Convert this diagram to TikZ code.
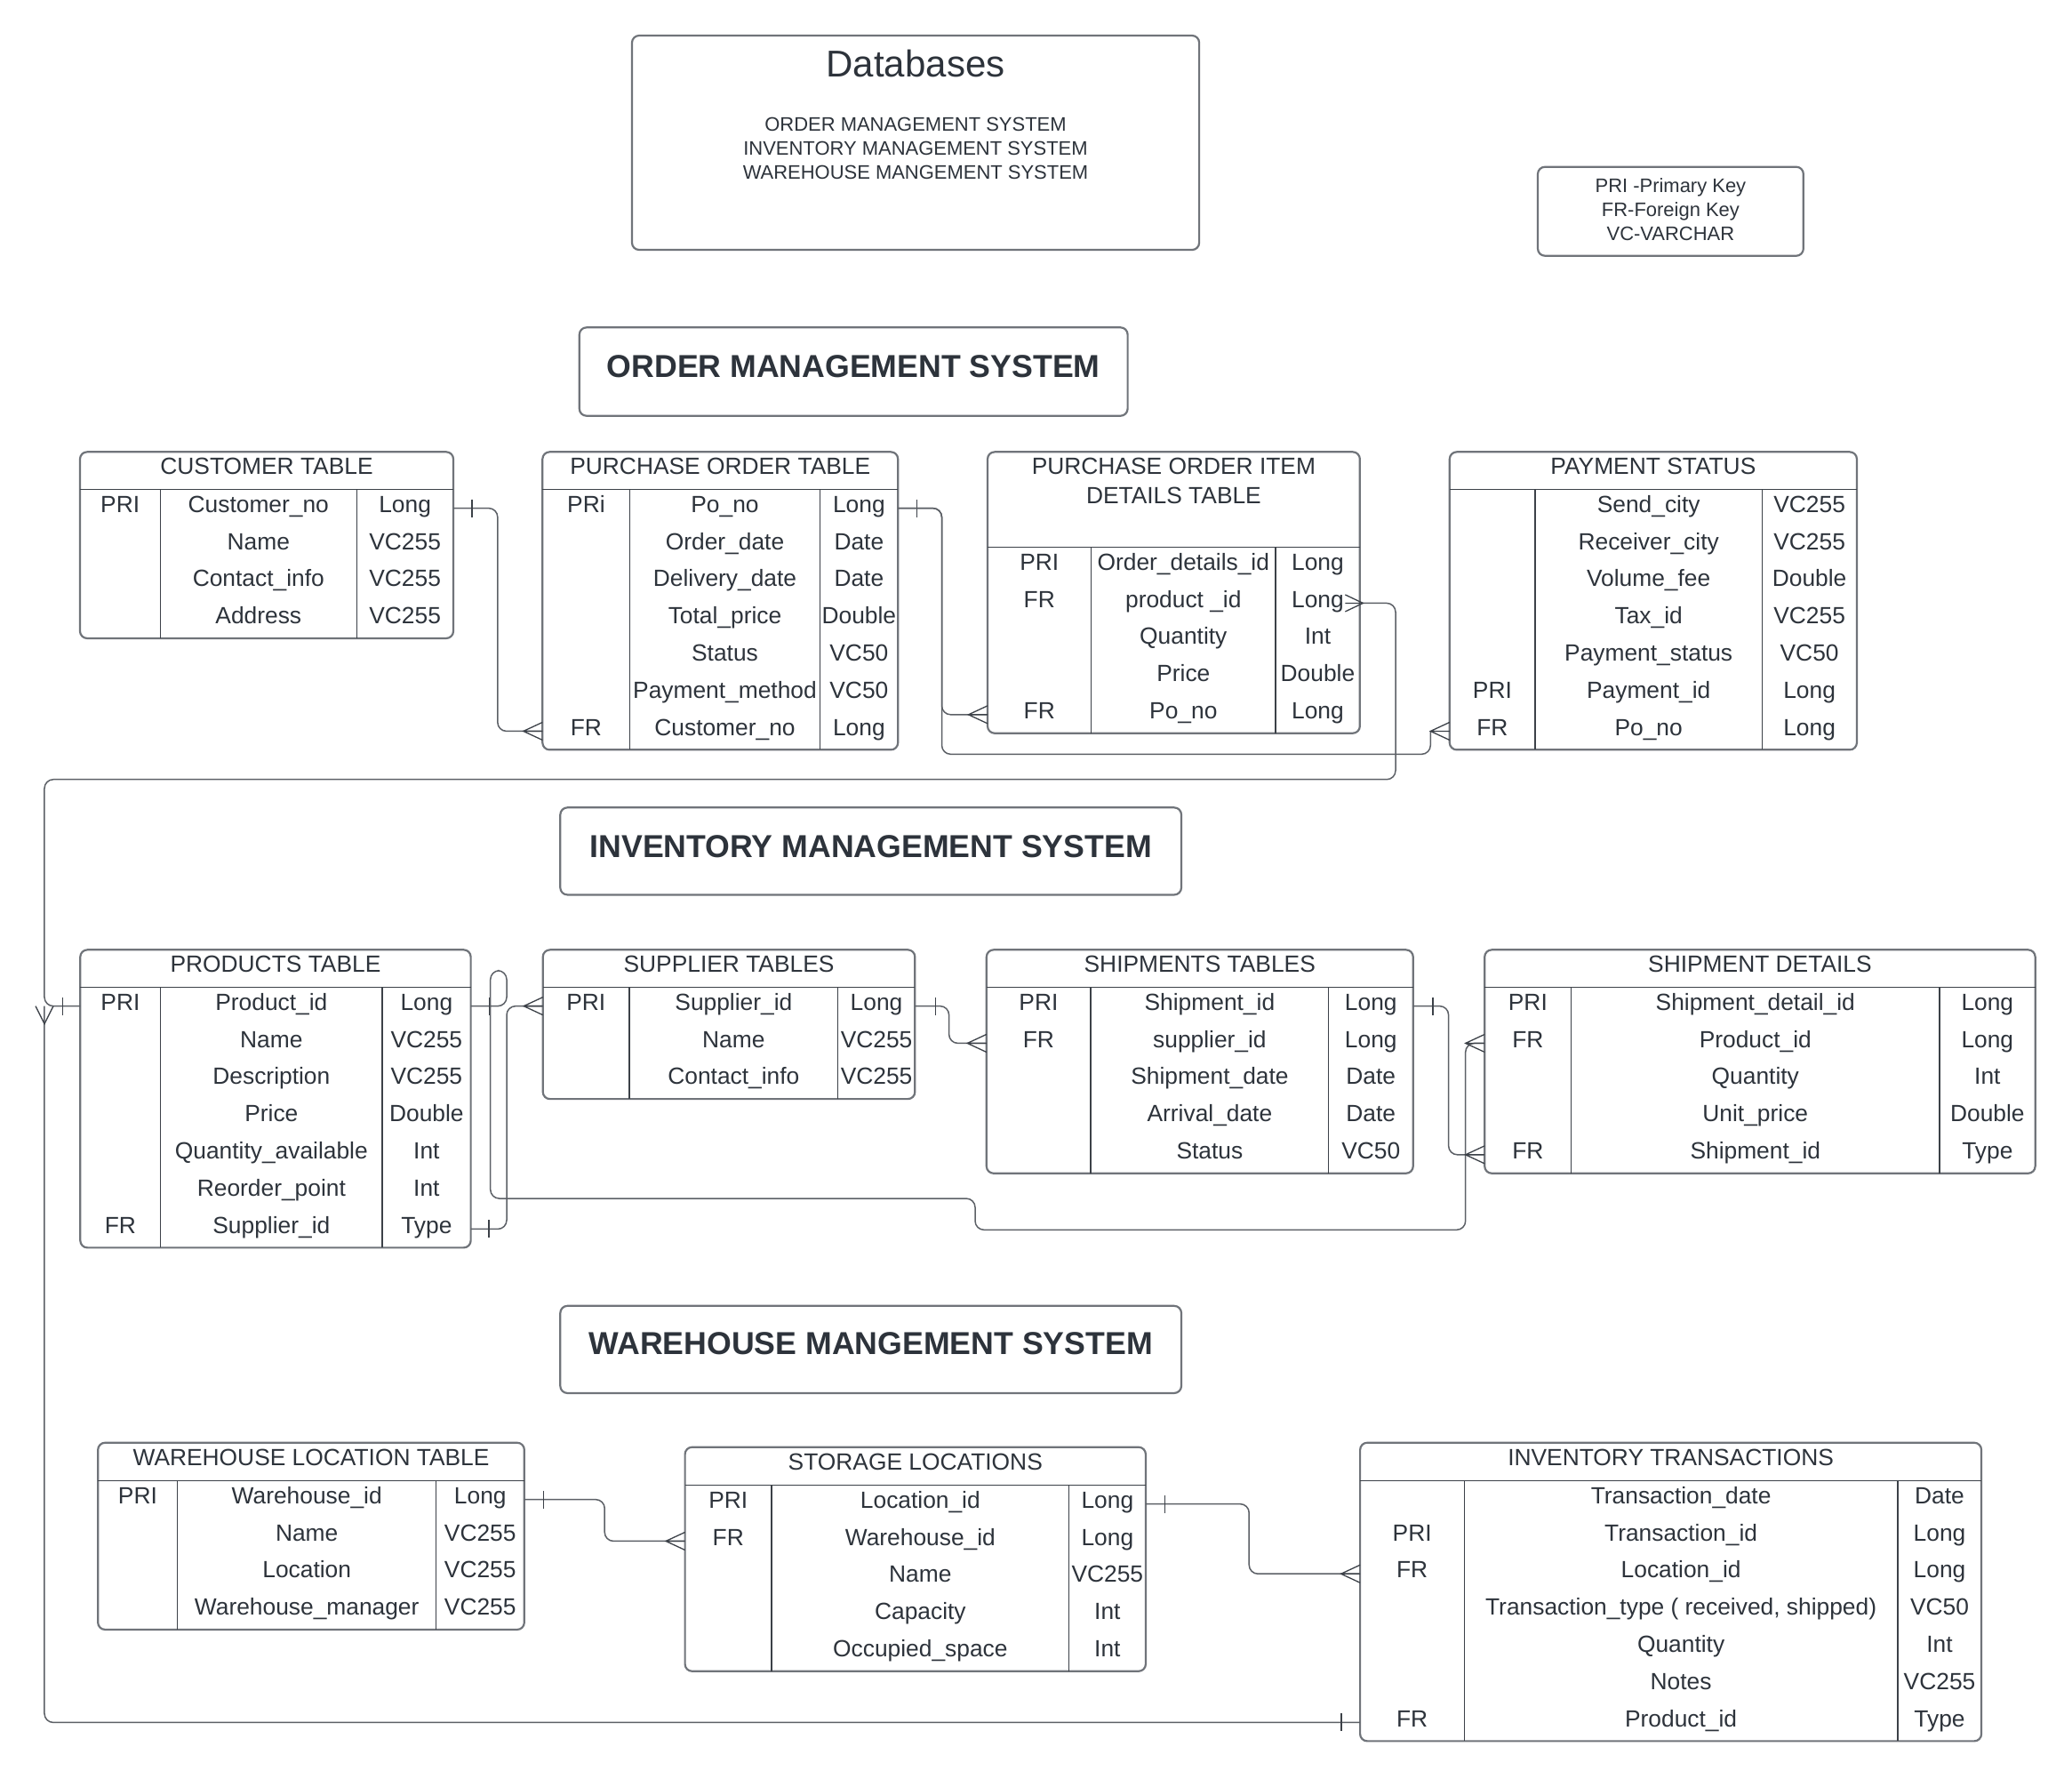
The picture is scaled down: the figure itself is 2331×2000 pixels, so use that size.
\documentclass[tikz,border=0pt]{standalone}
\usepackage{fontspec}
\setmainfont{Liberation Sans}
\definecolor{txt}{RGB}{45,51,59}
\definecolor{bord}{RGB}{112,116,122}
\definecolor{inl}{RGB}{60,65,72}
\definecolor{cn}{RGB}{92,96,102}
\tikzset{
  tabbox/.style={draw=bord, line width=0.22mm, rounded corners=0.8mm, fill=white, inner sep=0pt, outer sep=0pt},
  tabline/.style={draw=inl, line width=0.13mm},
  conn/.style={draw=cn, line width=0.15mm, rounded corners=1mm},
  markline/.style={draw=inl, line width=0.13mm},
  cell/.style={text=txt, font=\fontsize{7.5}{9}\selectfont, anchor=base, inner sep=0pt},
  rowarea/.style={inner sep=0pt, outer sep=0pt, draw=none, minimum height=4.18mm},
  secbox/.style={draw=bord, line width=0.22mm, rounded corners=0.8mm, inner sep=0pt, outer sep=0pt, anchor=north west},
  sectitle/.style={text=txt, font=\fontsize{10.15}{12}\selectfont\bfseries, anchor=base, inner sep=0pt},
  dbtitle/.style={text=txt, font=\fontsize{11.95}{14}\selectfont, anchor=base, inner sep=0pt},
  smalltxt/.style={text=txt, font=\fontsize{6.25}{8}\selectfont, anchor=base, inner sep=0pt},
}
% table: #1 name #2 x1 #3 x2 #4 c1 #5 c2 #6 ytop #7 yhdr #8 nrows #9 title
\newcommand\ertable[9]{%
  \pgfmathsetmacro\ybot{#7+#8*41.8}%
  \pgfmathsetmacro\tw{(#3-#2)*0.1}%
  \pgfmathsetmacro\th{(\ybot-#6)*0.1}%
  \node[tabbox, minimum width=\tw mm, minimum height=\th mm, anchor=north west] (#1) at (#2,#6) {};
  \draw[tabline] (#2,#7) -- (#3,#7) (#4,#7) -- (#4,\ybot) (#5,#7) -- (#5,\ybot);
  \gdef\tname{#1}\gdef\xa{#2}\gdef\xb{#3}\gdef\ca{#4}\gdef\cb{#5}\gdef\yh{#7}%
  \node[cell] (#1-title) at ({(#2+#3)/2},{#6+25.6}) {#9};
}
% row: #1 idx #2 key #3 field #4 type
\newcommand\erow[4]{%
  \pgfmathsetmacro\yrt{\yh+(#1-1)*41.8}%
  \pgfmathsetmacro\yrc{\yrt+20.9}%
  \pgfmathsetmacro\rw{(\xb-\xa)*0.1}%
  \node[rowarea, minimum width=\rw mm] (\tname-r#1) at ({(\xa+\xb)/2},\yrc) {};
  \node[cell] (\tname-k#1) at ({(\xa+\ca)/2},{\yrt+25.5}) {#2};
  \node[cell] (\tname-f#1) at ({(\ca+\cb)/2},{\yrt+25.5}) {#3};
  \node[cell] (\tname-t#1) at ({(\cb+\xb)/2},{\yrt+25.5}) {#4};
}
\newcommand\crowW[1]{\draw[markline] ([shift={(0,-10)}]#1) -- ([shift={(-21.5,0)}]#1) -- ([shift={(0,10)}]#1) ([shift={(-21.5,0)}]#1) -- (#1);}
\newcommand\barE[2]{\draw[markline] ([shift={(#2,-10)}]#1) -- ([shift={(#2,10)}]#1);}
\begin{document}
\begin{tikzpicture}[x=0.1mm, y=-0.1mm]
\fill[white] (0,0) rectangle (2331,2000);
\useasboundingbox (0,0) rectangle (2331,2000);

% header boxes
\node[secbox, minimum width=63.81mm, minimum height=24.1mm] (dbbox) at (711,40) {};
\node[dbtitle] (dbt) at (1030,86) {Databases};
\node[smalltxt] (db1) at (1030,147.7) {ORDER MANAGEMENT SYSTEM};
\node[smalltxt] (db2) at (1030,174.5) {INVENTORY MANAGEMENT SYSTEM};
\node[smalltxt] (db3) at (1030,201.5) {WAREHOUSE MANGEMENT SYSTEM};

\node[secbox, minimum width=29.88mm, minimum height=10mm] (legend) at (1730,187.7) {};
\node[smalltxt] (lg1) at (1879.4,216.7) {PRI -Primary Key};
\node[smalltxt] (lg2) at (1879.4,243.6) {FR-Foreign Key};
\node[smalltxt] (lg3) at (1879.4,270.5) {VC-VARCHAR};

\node[secbox, minimum width=61.68mm, minimum height=9.94mm] (oms) at (651.8,368.3) {};
\node[sectitle] (oms-t) at (960.2,424) {ORDER MANAGEMENT SYSTEM};
\node[secbox, minimum width=69.87mm, minimum height=9.81mm] (ims) at (630.3,908.3) {};
\node[sectitle] (ims-t) at (979.7,964.2) {INVENTORY MANAGEMENT SYSTEM};
\node[secbox, minimum width=69.87mm, minimum height=9.81mm] (wms) at (630.3,1468.8) {};
\node[sectitle] (wms-t) at (979.7,1523.2) {WAREHOUSE MANGEMENT SYSTEM};

% ORDER tables
\ertable{cust}{90}{510}{180.3}{401.3}{508.3}{550.7}{4}{CUSTOMER TABLE}
\erow{1}{PRI}{Customer\_no}{Long}
\erow{2}{}{Name}{VC255}
\erow{3}{}{Contact\_info}{VC255}
\erow{4}{}{Address}{VC255}

\ertable{po}{610.3}{1010.2}{708.5}{922.5}{508.3}{550.7}{7}{PURCHASE ORDER TABLE}
\erow{1}{PRi}{Po\_no}{Long}
\erow{2}{}{Order\_date}{Date}
\erow{3}{}{Delivery\_date}{Date}
\erow{4}{}{Total\_price}{Double}
\erow{5}{}{Status}{VC50}
\erow{6}{}{Payment\_method}{VC50}
\erow{7}{FR}{Customer\_no}{Long}

\ertable{poi}{1111}{1529.8}{1227.5}{1435.1}{508.3}{615.7}{5}{PURCHASE ORDER ITEM}
\node[cell] (poi-title2) at (1320.4,566) {DETAILS TABLE};
\erow{1}{PRI}{Order\_details\_id}{Long}
\erow{2}{FR}{product \_id}{Long}
\erow{3}{}{Quantity}{Int}
\erow{4}{}{Price}{Double}
\erow{5}{FR}{Po\_no}{Long}

\ertable{pay}{1630.8}{2088.9}{1727}{1982.3}{508.3}{550.7}{7}{PAYMENT STATUS}
\erow{1}{}{Send\_city}{VC255}
\erow{2}{}{Receiver\_city}{VC255}
\erow{3}{}{Volume\_fee}{Double}
\erow{4}{}{Tax\_id}{VC255}
\erow{5}{}{Payment\_status}{VC50}
\erow{6}{PRI}{Payment\_id}{Long}
\erow{7}{FR}{Po\_no}{Long}

% INVENTORY tables
\ertable{prod}{90.3}{529.6}{180.6}{430.1}{1068.3}{1110.7}{7}{PRODUCTS TABLE}
\erow{1}{PRI}{Product\_id}{Long}
\erow{2}{}{Name}{VC255}
\erow{3}{}{Description}{VC255}
\erow{4}{}{Price}{Double}
\erow{5}{}{Quantity\_available}{Int}
\erow{6}{}{Reorder\_point}{Int}
\erow{7}{FR}{Supplier\_id}{Type}

\ertable{sup}{610.7}{1029.3}{707.9}{942.8}{1068.3}{1110.7}{3}{SUPPLIER TABLES}
\erow{1}{PRI}{Supplier\_id}{Long}
\erow{2}{}{Name}{VC255}
\erow{3}{}{Contact\_info}{VC255}

\ertable{ship}{1109.8}{1589.7}{1227}{1494.8}{1068.3}{1110.7}{5}{SHIPMENTS TABLES}
\erow{1}{PRI}{Shipment\_id}{Long}
\erow{2}{FR}{supplier\_id}{Long}
\erow{3}{}{Shipment\_date}{Date}
\erow{4}{}{Arrival\_date}{Date}
\erow{5}{}{Status}{VC50}

\ertable{sd}{1670.2}{2289.6}{1767.5}{2182}{1068.3}{1110.7}{5}{SHIPMENT DETAILS}
\erow{1}{PRI}{Shipment\_detail\_id}{Long}
\erow{2}{FR}{Product\_id}{Long}
\erow{3}{}{Quantity}{Int}
\erow{4}{}{Unit\_price}{Double}
\erow{5}{FR}{Shipment\_id}{Type}

% WAREHOUSE tables
\ertable{wl}{110.2}{589.8}{199.7}{490.7}{1622.7}{1665.7}{4}{WAREHOUSE LOCATION TABLE}
\erow{1}{PRI}{Warehouse\_id}{Long}
\erow{2}{}{Name}{VC255}
\erow{3}{}{Location}{VC255}
\erow{4}{}{Warehouse\_manager}{VC255}

\ertable{sl}{770.6}{1288.9}{867.9}{1202.8}{1627.7}{1670.7}{5}{STORAGE LOCATIONS}
\erow{1}{PRI}{Location\_id}{Long}
\erow{2}{FR}{Warehouse\_id}{Long}
\erow{3}{}{Name}{VC255}
\erow{4}{}{Capacity}{Int}
\erow{5}{}{Occupied\_space}{Int}

\ertable{it}{1530.1}{2229}{1647.2}{2135}{1622.7}{1665.7}{7}{INVENTORY TRANSACTIONS}
\erow{1}{}{Transaction\_date}{Date}
\erow{2}{PRI}{Transaction\_id}{Long}
\erow{3}{FR}{Location\_id}{Long}
\erow{4}{}{Transaction\_type ( received, shipped)}{VC50}
\erow{5}{}{Quantity}{Int}
\erow{6}{}{Notes}{VC255}
\erow{7}{FR}{Product\_id}{Type}

% ---------- connectors ----------
% customer -> purchase order
\draw[conn] (cust-r1.east) -- ++(49.8,0) |- (po-r7.west);
\barE{cust-r1.east}{21}
\crowW{po-r7.west}
% purchase order -> item details
\draw[conn] (po-r1.east) -- ++(49.3,0) |- (poi-r5.west);
\barE{po-r1.east}{21}
\crowW{poi-r5.west}
% purchase order -> payment
\draw[conn] (po-r1.east) -- ++(49.3,0) |- ([shift={(-21.5,25.9)}]pay-r7.west) -- ([shift={(-21.5,0)}]pay-r7.west);
\crowW{pay-r7.west}
% item details product_id -> products
\draw[conn] (poi-r2.east) -- ++(40.2,0) -- ++(0,198.3) -| ([shift={(-40.3,0)}]prod-r1.west) -- (prod-r1.west);
\draw[markline] ([shift={(-16.5,-9.5)}]poi-r2.east) -- ([shift={(3.5,0)}]poi-r2.east) -- ([shift={(-16.5,9.5)}]poi-r2.east) ([shift={(-16.5,0)}]poi-r2.east) -- (poi-r2.east);
\barE{prod-r1.west}{-19.6}
% inventory transactions -> products
\draw[conn] (it-r7.west) -| ([shift={(-40.3,0)}]prod-r1.west);
\barE{it-r7.west}{-21}
\draw[markline] ([shift={(-50.3,0)}]prod-r1.west) -- ([shift={(-40.3,20)}]prod-r1.west) -- ([shift={(-30.3,0)}]prod-r1.west);
% products -> shipment details
\draw[conn] (prod-r1.east) -- ++(40.4,0) -- ++(0,-39.9) -- ++(-18.3,0) -- ++(0,256.3) -- ++(545.3,0) -- ++(0,35.3) -| ([shift={(-21.5,0)}]sd-r2.west) -- (sd-r2.west);
\barE{prod-r1.east}{21.1}
\crowW{sd-r2.west}
% products supplier_id -> supplier
\draw[conn] (prod-r7.east) -- ++(40.4,0) |- (sup-r1.west);
\barE{prod-r7.east}{20.4}
\crowW{sup-r1.west}
% supplier -> shipments
\draw[conn] (sup-r1.east) -- ++(38.3,0) |- (ship-r2.west);
\barE{sup-r1.east}{23}
\crowW{ship-r2.west}
% shipments -> shipment details
\draw[conn] (ship-r1.east) -- ++(39.9,0) |- (sd-r5.west);
\barE{ship-r1.east}{22.3}
\crowW{sd-r5.west}
% warehouse -> storage
\draw[conn] (wl-r1.east) -- ++(90.4,0) |- (sl-r2.west);
\barE{wl-r1.east}{21.5}
\crowW{sl-r2.west}
% storage -> inventory transactions
\draw[conn] (sl-r1.east) -- ++(116.3,0) |- (it-r3.west);
\barE{sl-r1.east}{21.5}
\crowW{it-r3.west}
\end{tikzpicture}
\end{document}
